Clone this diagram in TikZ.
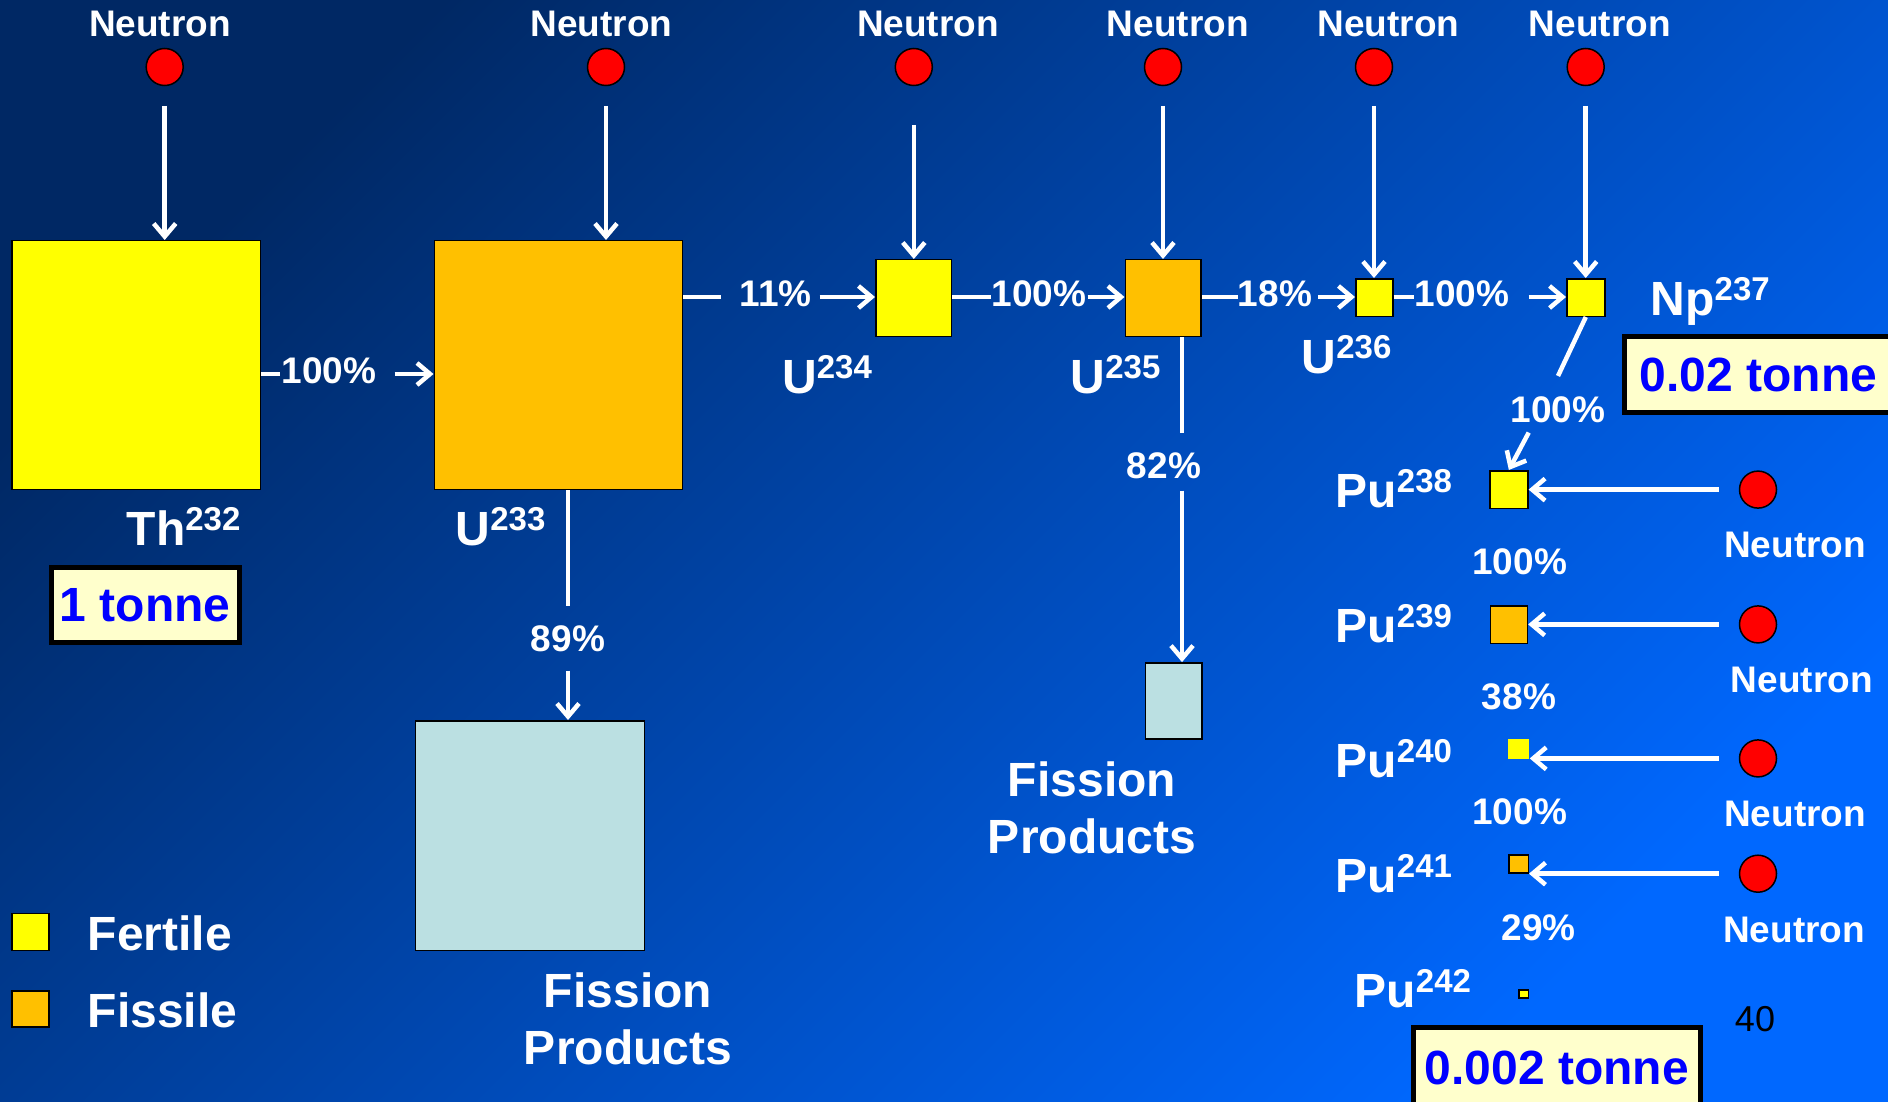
\documentclass[tikz,border=0pt]{standalone}
\usepackage{fontspec}
\setmainfont{Liberation Sans}
\usetikzlibrary{arrows.meta}
\definecolor{fert}{RGB}{255,255,0}
\definecolor{fiss}{RGB}{255,192,0}
\definecolor{fprod}{RGB}{187,224,226}
\definecolor{bgA}{RGB}{0,40,100}
\definecolor{bgB}{RGB}{0,78,205}
\definecolor{bgC}{RGB}{0,104,255}
\definecolor{tonneF}{RGB}{255,255,204}
\definecolor{tonneT}{RGB}{0,0,255}
\newcommand\isotope[2]{#1\raisebox{15pt}{\fontsize{33}{33}\selectfont #2}}
\begin{document}
\begin{tikzpicture}[x=1pt,y=-1pt,
  wline/.style={draw=white,line width=4.5pt},
  warr/.style={wline,-{Straight Barb[length=13pt,width=22pt]}},
  nuc/.style={draw=black,line width=1.5pt,inner sep=0pt,rectangle},
  neut/.style={circle,fill=red,draw=black,line width=1.5pt,minimum size=37pt,inner sep=0pt},
  lbl/.style={text=white,font=\fontsize{37}{44}\selectfont\bfseries,inner sep=0pt,anchor=base},
  isolbl/.style={text=white,font=\fontsize{48}{57}\selectfont\bfseries,inner sep=0pt,anchor=base west},
  bigtxt/.style={text=white,font=\fontsize{48}{57}\selectfont\bfseries,inner sep=0pt,align=center,anchor=north},
  tonnebox/.style={draw=black,line width=5pt,fill=tonneF,text=tonneT,font=\fontsize{48}{57}\selectfont\bfseries,inner sep=0pt},
]
% background
\shade[shading=axis,top color=bgA,middle color=bgB,bottom color=bgC,shading angle=45] (0,0) rectangle (1888,1102);
\useasboundingbox (0,0) rectangle (1888,1102);

% nuclide boxes
\node[nuc,fill=fert,minimum width=248.5pt,minimum height=248.5pt] (th) at (136,365) {};
\node[nuc,fill=fiss,minimum width=248pt,minimum height=248.5pt] (u233) at (558.25,365) {};
\node[nuc,fill=fert,minimum width=75.5pt,minimum height=76.5pt] (u234) at (913.5,298) {};
\node[nuc,fill=fiss,minimum width=75.8pt,minimum height=76.5pt] (u235) at (1163.15,298) {};
\node[nuc,fill=fert,minimum width=37.2pt,minimum height=37.5pt] (u236) at (1374.35,297.5) {};
\node[nuc,fill=fert,minimum width=38pt,minimum height=37.5pt] (np) at (1585.8,297.5) {};
\node[nuc,fill=fert,minimum width=38pt,minimum height=37.5pt] (pu238) at (1508.85,489.5) {};
\node[nuc,fill=fiss,minimum width=37pt,minimum height=37.5pt] (pu239) at (1508.9,624.5) {};
\node[nuc,draw=none,fill=fert,minimum width=21pt,minimum height=20pt] (pu240) at (1518.5,749) {};
\node[nuc,fill=fiss,minimum width=19.5pt,minimum height=18pt] (pu241) at (1518.5,863.8) {};
\node[nuc,fill=fert,minimum width=9.5pt,minimum height=8pt] (pu242) at (1523.5,993.75) {};
\node[nuc,fill=fprod,minimum width=229pt,minimum height=229.5pt] (fp1) at (530.2,835.5) {};
\node[nuc,fill=fprod,minimum width=56.5pt,minimum height=76pt] (fp2) at (1173.5,700.85) {};
\node[nuc,fill=fert,minimum width=37pt,minimum height=37pt] (lgA) at (30.25,931.75) {};
\node[nuc,fill=fiss,minimum width=37pt,minimum height=36pt] (lgB) at (30.25,1008.8) {};

% top neutrons
\node[neut] (n1) at (164.7,67) {};
\node[neut] (n2) at (606,67) {};
\node[neut] (n3) at (913.8,67) {};
\node[neut] (n4) at (1163,67) {};
\node[neut] (n5) at (1374,67) {};
\node[neut] (n6) at (1585.7,67) {};
\node[lbl] (nt1) at (160,37) {Neutron};
\node[lbl] (nt2) at (601.6,37) {Neutron};
\node[lbl] (nt3) at (928,37) {Neutron};
\node[lbl] (nt4) at (1177.7,37) {Neutron};
\node[lbl] (nt5) at (1388.6,37) {Neutron};
\node[lbl] (nt6) at (1599.8,37) {Neutron};
\draw[warr] ([yshift=-39pt]n1.center) -- (n1.center |- th.north);
\draw[warr] ([yshift=-39pt]n2.center) -- (n2.center |- u233.north);
\draw[warr] ([yshift=-58pt]n3.center) -- (n3.center |- u234.north);
\draw[warr] ([yshift=-39pt]n4.center) -- (n4.center |- u235.north);
\draw[warr] ([yshift=-39pt]n5.center) -- (n5.center |- u236.north);
\draw[warr] ([yshift=-39pt]n6.center) -- (n6.center |- np.north);

% right-hand neutrons
\node[neut] (r1) at (1758,489.6) {};
\node[neut] (r2) at (1758,624.4) {};
\node[neut] (r3) at (1758,758.4) {};
\node[neut] (r4) at (1758,873.7) {};
\node[lbl] (rt1) at (1795,557) {Neutron};
\node[lbl] (rt2) at (1801.7,692) {Neutron};
\node[lbl] (rt3) at (1795,826.7) {Neutron};
\node[lbl] (rt4) at (1794,942) {Neutron};
\draw[warr] ([xshift=-20pt]r1.west) -- (pu238.east |- r1.center);
\draw[warr] ([xshift=-20pt]r2.west) -- (pu239.east |- r2.center);
\draw[warr] ([xshift=-20pt]r3.west) -- (pu240.east |- r3.center);
\draw[warr] ([xshift=-20pt]r4.west) -- (pu241.east |- r4.center);

% main chain
\coordinate (yA) at (0,374);
\coordinate (yB) at (0,297);
\node[lbl] (p1) at (329,383) {100\%};
\draw[wline] (th.east |- yA) -- ([xshift=-1pt]p1.west |- yA);
\draw[warr] ([xshift=18pt]p1.east |- yA) -- (u233.west |- yA);
\node[lbl] (p2) at (775.5,306) {11\%};
\draw[wline] (u233.east |- yB) -- ([xshift=-18pt]p2.west |- yB);
\draw[warr] ([xshift=8pt]p2.east |- yB) -- (u234.west |- yB);
\node[lbl] (p3) at (1039,306) {100\%};
\draw[wline] (u234.east |- yB) -- (p3.west |- yB);
\draw[warr] ([xshift=1pt]p3.east |- yB) -- (u235.west |- yB);
\node[lbl] (p4) at (1275,306) {18\%};
\draw[wline] (u235.east |- yB) -- (p4.west |- yB);
\draw[warr] ([xshift=6pt]p4.east |- yB) -- (u236.west |- yB);
\node[lbl] (p5) at (1462,306) {100\%};
\draw[wline] (u236.east |- yB) -- (p5.west |- yB);
\draw[warr] ([xshift=19pt]p5.east |- yB) -- (np.west |- yB);

% fission branches
\coordinate (vA) at (568,0);
\coordinate (vB) at (1182,0);
\node[lbl] (p89) at (568,651) {89\%};
\draw[wline] (u233.south -| vA) -- ([yshift=19pt]p89.north);
\draw[warr] ([yshift=-19pt]p89.south) -- (fp1.north -| vA);
\node[lbl] (p82) at (1164,478) {82\%};
\draw[wline] (u235.south -| vB) -- ([yshift=19pt]p82.north -| vB);
\draw[warr] ([yshift=-12pt]p82.south -| vB) -- (fp2.north -| vB);

% Np decay
\node[lbl] (pnp) at (1558,422) {100\%};
\draw[wline] (np.south) -- ([yshift=20pt]pnp.north);
\draw[warr] ([xshift=-29.3pt,yshift=-10pt]pnp.south) -- (pu238.north);

% Pu percentages
\node[lbl] (q1) at (1519.6,574) {100\%};
\node[lbl] (q2) at (1519,709) {38\%};
\node[lbl] (q3) at (1519.6,824.5) {100\%};
\node[lbl] (q4) at (1538.7,940) {29\%};

% isotope labels
\node[isolbl] (lth) at (126.5,545.5) {\isotope{Th}{232}};
\node[isolbl] (lu233) at (455.5,545) {\isotope{U}{233}};
\node[isolbl] (lu234) at (782,393) {\isotope{U}{234}};
\node[isolbl] (lu235) at (1070.5,393) {\isotope{U}{235}};
\node[isolbl] (lu236) at (1301.5,373) {\isotope{U}{236}};
\node[isolbl] (lnp) at (1650.5,315) {\isotope{Np}{237}};
\node[isolbl] (lp8) at (1335.4,507) {\isotope{Pu}{238}};
\node[isolbl] (lp9) at (1335.4,642.7) {\isotope{Pu}{239}};
\node[isolbl] (lp0) at (1335.4,777) {\isotope{Pu}{240}};
\node[isolbl] (lp1) at (1335.4,892) {\isotope{Pu}{241}};
\node[isolbl] (lp2) at (1354.4,1007) {\isotope{Pu}{242}};

% fission product labels
\node[bigtxt] (fpt1) at (628,973) {Fission\\Products};
\node[bigtxt] (fpt2) at (1092,762) {Fission\\Products};

% legend
\node[isolbl] (lgtA) at (87.5,950) {Fertile};
\node[isolbl] (lgtB) at (87.5,1027.6) {Fissile};

% tonne boxes
\node[tonnebox,minimum width=188.5pt,minimum height=75pt] (t1) at (145.25,605) {1 tonne};
\node[tonnebox,minimum width=268.3pt,minimum height=76pt] (t2) at (1758.35,374.5) {0.02 tonne};
\node[tonnebox,minimum width=287.3pt,minimum height=80pt] (t3) at (1556.85,1067.5) {0.002 tonne};

% page number
\node[text=black,font=\fontsize{36}{40}\selectfont,inner sep=0pt,anchor=base] (pg) at (1755,1031.7) {40};
\end{tikzpicture}
\end{document}
